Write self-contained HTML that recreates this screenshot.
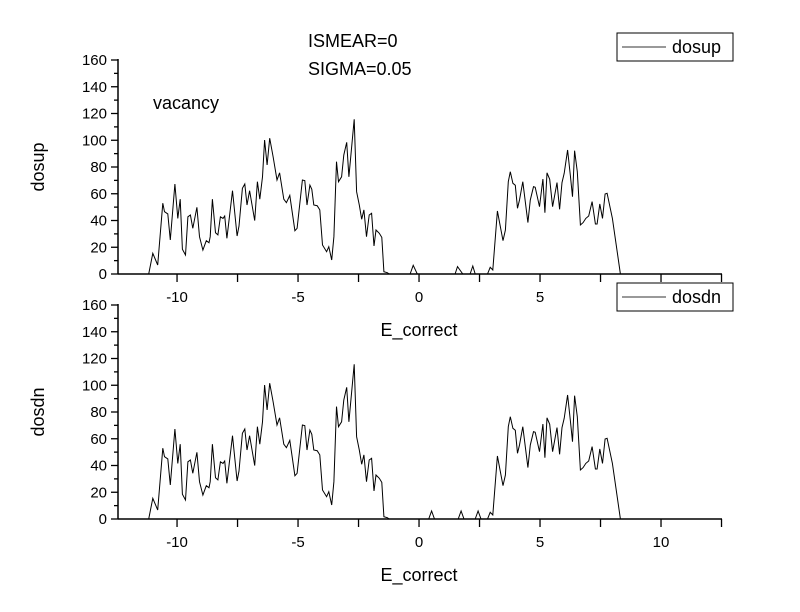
<!DOCTYPE html>
<html><head><meta charset="utf-8"><style>
html,body{margin:0;padding:0;background:#fff;}
svg{display:block;font-family:"Liberation Sans",Arial,sans-serif;}
</style></head><body>
<svg id="chart" width="800" height="612" viewBox="0 0 800 612" xmlns="http://www.w3.org/2000/svg">
<rect x="0" y="0" width="800" height="612" fill="#fff"/>
<text x="308" y="47" font-size="18">ISMEAR=0</text>
<text x="308" y="75" font-size="18">SIGMA=0.05</text>
<text x="153" y="109" font-size="18">vacancy</text>
<g id="top"></g>
<g id="bot"></g>
</svg>
<script>
const mainE = [-11.17,-11.00,-10.80,-10.59,-10.52,-10.38,-10.28,-10.09,-9.97,-9.87,-9.78,-9.65,-9.55,-9.45,-9.35,-9.18,-9.07,-8.93,-8.79,-8.68,-8.63,-8.54,-8.41,-8.31,-8.21,-8.10,-8.03,-7.94,-7.71,-7.52,-7.44,-7.30,-7.20,-7.11,-7.00,-6.79,-6.68,-6.58,-6.47,-6.38,-6.28,-6.17,-6.03,-5.87,-5.76,-5.59,-5.48,-5.34,-5.13,-5.04,-4.82,-4.72,-4.63,-4.51,-4.43,-4.35,-4.21,-4.10,-3.99,-3.82,-3.73,-3.61,-3.52,-3.41,-3.33,-3.20,-3.11,-2.99,-2.90,-2.68,-2.58,-2.47,-2.37,-2.28,-2.17,-2.06,-1.96,-1.86,-1.78,-1.64,-1.54,-1.45,-1.31,-1.23];
const mainDos = [0,15.5,6.7,52.9,46.6,44.9,25.4,67.3,41.6,55.9,18.5,14.2,42.8,44.1,34.2,49.9,27.9,17.9,24.9,23.4,27.9,55.9,30.9,29.2,42.8,41.6,43.4,26.7,62.3,28.4,35.9,64.1,67.3,51.6,62.3,39.9,69.0,55.9,72.7,100.2,81.5,101.5,87.7,70.3,75.7,55.9,53.3,58.8,32.4,34.2,70.3,69.8,51.6,66.5,63.3,51.6,51.1,47.9,21.7,16.7,20.4,10.5,27.9,84.0,69.0,72.7,89.0,98.5,72.7,115.7,61.5,51.6,40.9,47.9,27.9,44.1,45.4,20.9,32.9,30.4,27.4,1.7,1.0,0];
const upGapE = [-0.37,-0.24,-0.07,1.49,1.59,1.81,2.11,2.22,2.32,2.83,2.94,3.05];
const upGapDos = [0,6.5,0,0,5.5,0,0,6,0,0,5,3];
const dnGapE = [0.40,0.52,0.64,1.62,1.74,1.86,2.32,2.44,2.56,2.83,2.94,3.05];
const dnGapDos = [0,6,0,0,6,0,0,6,0,0,5,3];
const bandE = [3.24,3.47,3.57,3.69,3.77,3.88,3.98,4.07,4.15,4.29,4.50,4.60,4.73,4.80,4.98,5.12,5.20,5.29,5.40,5.52,5.70,5.81,5.91,6.00,6.14,6.25,6.34,6.43,6.54,6.67,6.78,6.89,7.01,7.15,7.29,7.36,7.47,7.58,7.69,7.77,7.99,8.32];
const bandDos = [47.1,24.9,32.9,69.0,76.5,67.8,66.3,49.1,55.3,69.0,38.4,55.3,65.3,64.8,50.3,71.0,45.8,75.7,70.8,50.3,68.3,48.4,68.3,75.3,92.7,74.0,57.8,92.2,76.5,36.6,38.4,41.6,43.4,54.1,37.4,37.4,52.3,41.6,59.8,60.3,41.6,0];
const xTicks = [-10,-5,0,5,10];
const yTicks = [0,20,40,60,80,100,120,140,160];

const NS = "http://www.w3.org/2000/svg";
const X0 = 118, X1 = 722, XMIN = -12.44, XMAX = 12.52;
function xs(v){ return X0 + (v - XMIN) / (XMAX - XMIN) * (X1 - X0); }
function mk(parent, tag, attrs){ const e = document.createElementNS(NS, tag); for (const k in attrs) e.setAttribute(k, attrs[k]); parent.appendChild(e); return e; }

function panel(g, y0, name, gapE, gapDos, showTen, legY){
  const ys = v => y0 - v * (214/160);
  let ax = mk(g,'line',{x1:X0,y1:ys(160)-1,x2:X0,y2:y0,stroke:'#000','stroke-width':1.5});
  
  
  for (let v = 0; v <= 160; v += 10){
    const major = v % 20 === 0;
    const t = mk(g,'line',{x1:X0-(major?7:4),y1:ys(v),x2:X0,y2:ys(v),stroke:'#000','stroke-width':1.3});
    
    
  }
  yTicks.forEach(v => {
    const t = mk(g,'text',{x:X0-11,y:ys(v)+5,'font-size':15,'text-anchor':'end'});
    t.textContent = v;
    
    
  });
  let xa = mk(g,'line',{x1:X0,y1:y0,x2:X1,y2:y0,stroke:'#000','stroke-width':1.5});
  
  
  for (let v = -12.5; v <= 12.5; v += 2.5){
    const px = xs(v);
    if (px < X0 - 1 || px > X1 + 1) continue;
    const t = mk(g,'line',{x1:px,y1:y0,x2:px,y2:y0+8,stroke:'#000','stroke-width':1.3});
    
    
  }
  xTicks.forEach(v => {
    if (v === 10 && !showTen) return;
    const t = mk(g,'text',{x:xs(v),y:y0+28,'font-size':15,'text-anchor':'middle'});
    t.textContent = v;
    
    
  });
  const E = mainE.concat(gapE, bandE), D = mainDos.concat(gapDos, bandDos);
  let d = '';
  E.forEach((e,i) => { d += (i ? 'L' : 'M') + xs(e).toFixed(1) + ',' + ys(D[i]).toFixed(1); });
  const p = mk(g,'path',{d:d,fill:'none',stroke:'#000','stroke-width':1});
  
  
  const yt = mk(g,'text',{x:0,y:0,'font-size':18,'text-anchor':'middle',transform:'translate(44,'+ys(80)+') rotate(-90)'});
  yt.textContent = name;
  
  
  const xt = mk(g,'text',{x:419,y:y0+62,'font-size':18,'text-anchor':'middle'});
  xt.textContent = 'E_correct';
  
  
  const lg = mk(g,'g',{});
  
  
  mk(lg,'rect',{x:617,y:legY,width:116,height:28,fill:'#fff',stroke:'#000','stroke-width':1});
  mk(lg,'line',{x1:622,y1:legY+14,x2:666,y2:legY+14,stroke:'#333','stroke-width':1});
  const lt = mk(lg,'text',{x:672,y:legY+20,'font-size':18});
  lt.textContent = name;
}
panel(document.getElementById('top'), 274, 'dosup', upGapE, upGapDos, false, 33);
panel(document.getElementById('bot'), 519, 'dosdn', dnGapE, dnGapDos, true, 283);
</script>
</body></html>
